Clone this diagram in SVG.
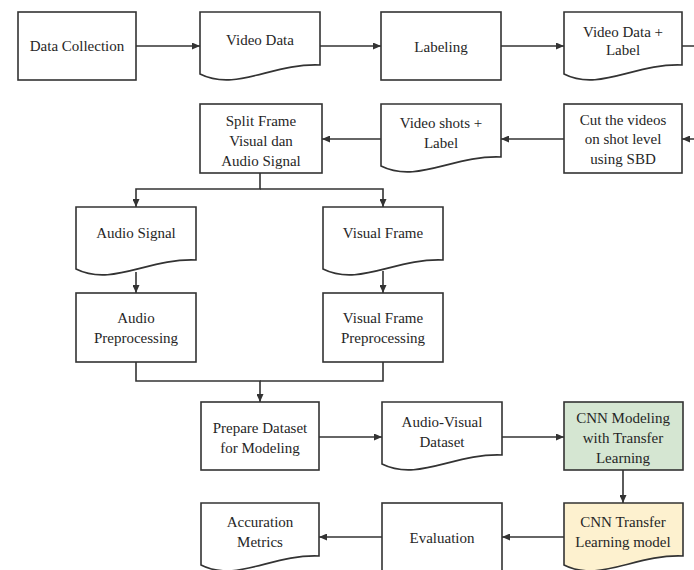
<svg xmlns="http://www.w3.org/2000/svg" width="694" height="570" viewBox="0 0 694 570">
<style>
.b{fill:#ffffff;stroke:#333333;stroke-width:1.6}
.g{fill:#d5e6d2;stroke:#333333;stroke-width:1.6}
.y{fill:#fdf1cf;stroke:#333333;stroke-width:1.6}
.c{fill:none;stroke:#333333;stroke-width:1.6}
text{font-family:"Liberation Serif","Times New Roman",serif;font-size:15px;fill:#262626;text-anchor:middle}
</style>
<defs>
<marker id="a" markerUnits="userSpaceOnUse" markerWidth="8" markerHeight="7" refX="8" refY="3.5" orient="auto">
<path d="M0,0 L8,3.5 L0,7 z" fill="#333333"/>
</marker>
</defs>
<rect width="694" height="570" fill="#ffffff"/>
<g id="connectors">
<path class="c" d="M136,46 H200" marker-end="url(#a)"/>
<path class="c" d="M320,46 H381" marker-end="url(#a)"/>
<path class="c" d="M501,46 H564" marker-end="url(#a)"/>
<path class="c" d="M682,46 H702 V139 H682" marker-end="url(#a)"/>
<path class="c" d="M564,139 H501" marker-end="url(#a)"/>
<path class="c" d="M381,139 H322" marker-end="url(#a)"/>
<path class="c" d="M260,173 V189 H136 V207" marker-end="url(#a)"/>
<path class="c" d="M260,189 H383 V207" marker-end="url(#a)"/>
<path class="c" d="M136,272 V293" marker-end="url(#a)"/>
<path class="c" d="M383,271 V293" marker-end="url(#a)"/>
<path class="c" d="M136,362 V381 H260 V402" marker-end="url(#a)"/>
<path class="c" d="M383,362 V381 H260"/>
<path class="c" d="M319,437 H382" marker-end="url(#a)"/>
<path class="c" d="M502,437 H564" marker-end="url(#a)"/>
<path class="c" d="M623,470 V503" marker-end="url(#a)"/>
<path class="c" d="M564,537 H502" marker-end="url(#a)"/>
<path class="c" d="M382,537 H319" marker-end="url(#a)"/>
</g>
<g id="data-collection">
<rect class="b" x="18" y="12" width="118" height="68"/>
<text x="77" y="51">Data Collection</text>
</g>
<g id="video-data">
<path class="b" d="M200,12 H320 V65 C272,63 236,92 200,74 Z"/>
<text x="260" y="45">Video Data</text>
</g>
<g id="labeling">
<rect class="b" x="381" y="12" width="120" height="68"/>
<text x="441" y="52">Labeling</text>
</g>
<g id="video-data-label">
<path class="b" d="M564,12 H682 V65 C635,63 599,92 564,74 Z"/>
<text x="623" y="37">Video Data +</text>
<text x="623" y="55">Label</text>
</g>
<g id="cut-videos">
<rect class="b" x="564" y="104" width="118" height="69"/>
<text x="623" y="125">Cut the videos</text>
<text x="623" y="144">on shot level</text>
<text x="623" y="164">using SBD</text>
</g>
<g id="video-shots-label">
<path class="b" d="M381,104 H501 V157 C453,155 417,184 381,166 Z"/>
<text x="441" y="128">Video shots +</text>
<text x="441" y="148">Label</text>
</g>
<g id="split-frame">
<rect class="b" x="200" y="104" width="122" height="69"/>
<text x="261" y="126">Split Frame</text>
<text x="261" y="146">Visual dan</text>
<text x="261" y="166">Audio Signal</text>
</g>
<g id="audio-signal">
<path class="b" d="M76,207 H196 V260 C148,258 112,287 76,269 Z"/>
<text x="136" y="238">Audio Signal</text>
</g>
<g id="visual-frame">
<path class="b" d="M323,207 H443 V260 C395,258 359,287 323,269 Z"/>
<text x="383" y="238">Visual Frame</text>
</g>
<g id="audio-preprocessing">
<rect class="b" x="76" y="293" width="120" height="69"/>
<text x="136" y="323">Audio</text>
<text x="136" y="343">Preprocessing</text>
</g>
<g id="visual-frame-preprocessing">
<rect class="b" x="323" y="293" width="120" height="69"/>
<text x="383" y="323">Visual Frame</text>
<text x="383" y="343">Preprocessing</text>
</g>
<g id="prepare-dataset">
<rect class="b" x="201" y="402" width="118" height="68"/>
<text x="260" y="433">Prepare Dataset</text>
<text x="260" y="453">for Modeling</text>
</g>
<g id="audio-visual-dataset">
<path class="b" d="M382,402 H502 V455 C454,453 418,482 382,464 Z"/>
<text x="442" y="427">Audio-Visual</text>
<text x="442" y="447">Dataset</text>
</g>
<g id="cnn-modeling">
<rect class="g" x="564" y="402" width="119" height="68"/>
<text x="623" y="423">CNN Modeling</text>
<text x="623" y="443">with Transfer</text>
<text x="623" y="463">Learning</text>
</g>
<g id="cnn-transfer-model">
<path class="y" d="M564,503 H683 V556 C635,554 599,583 564,565 Z"/>
<text x="623" y="527">CNN Transfer</text>
<text x="623" y="547">Learning model</text>
</g>
<g id="evaluation">
<rect class="b" x="382" y="503" width="120" height="70"/>
<text x="442" y="543">Evaluation</text>
</g>
<g id="accuration-metrics">
<path class="b" d="M201,503 H319 V556 C272,554 236,583 201,565 Z"/>
<text x="260" y="527">Accuration</text>
<text x="260" y="547">Metrics</text>
</g>
</svg>
